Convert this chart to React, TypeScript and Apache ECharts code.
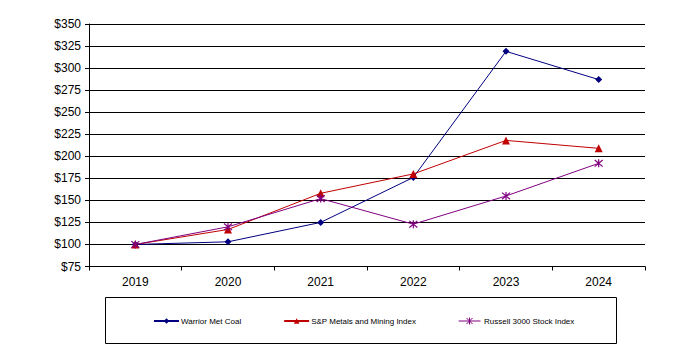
import React, { useEffect, useRef } from "react";
import * as echarts from "echarts";

const years = ["2019", "2020", "2021", "2022", "2023", "2024"];
const warrior = [100, 103, 125, 176, 319, 287];
const spMetals = [100, 117, 158, 180, 218, 209];
const russell = [100, 120, 152, 123, 155, 192];

const asterisk = "path://M0,0L10,10M10,0L0,10M5,-1L5,11";
const asteriskLegend = "path://M0,5L25,5M9,1.5L16,8.5M16,1.5L9,8.5M12.5,1L12.5,9";

export default function App() {
  const ref = useRef<HTMLDivElement>(null);
  useEffect(() => {
    document.body.style.margin = "0";
    const chart = echarts.init(ref.current!, null, { renderer: "svg" });
    const font = "Arial, 'Liberation Sans', sans-serif";
    chart.setOption({
      animation: false,
      backgroundColor: "#ffffff",
      grid: { left: 89, right: 32, top: 24, bottom: 87.5 },
      xAxis: {
        type: "category",
        data: years,
        boundaryGap: true,
        axisLine: { lineStyle: { color: "#000", width: 1 } },
        axisTick: { show: true, inside: false, length: 4, alignWithLabel: false, lineStyle: { color: "#000" } },
        axisLabel: { color: "#000", fontFamily: font, fontSize: 12, margin: 9 },
      },
      yAxis: {
        type: "value",
        min: 75,
        max: 350,
        interval: 25,
        axisLine: { show: true, lineStyle: { color: "#000", width: 1 } },
        axisTick: { show: true, length: 4, lineStyle: { color: "#000" } },
        axisLabel: { color: "#000", fontFamily: font, fontSize: 12, margin: 8, formatter: (v: number) => "$" + v },
        splitLine: { show: true, lineStyle: { color: "#000", width: 1 } },
      },
      legend: {
        left: 148,
        top: 312,
        itemWidth: 25,
        itemHeight: 7,
        itemGap: 42,
        textStyle: { fontFamily: font, fontSize: 8, color: "#000", padding: [0, 0, 0, -3] },
        data: [
          "Warrior Met Coal",
          "S&P Metals and Mining Index",
          {
            name: "Russell 3000 Stock Index",
            icon: asteriskLegend,
            itemStyle: { color: "rgba(0,0,0,0)", borderColor: "#800080", borderWidth: 1 },
          },
        ],
      },
      graphic: [
        {
          type: "rect",
          shape: { x: 105.5, y: 297.5, width: 511, height: 46 },
          style: { fill: "none", stroke: "#000", lineWidth: 1 },
          z: -1,
        },
      ],
      series: [
        {
          name: "Warrior Met Coal",
          type: "line",
          data: warrior,
          symbol: "diamond",
          symbolSize: 7,
          itemStyle: { color: "#000080" },
          lineStyle: { color: "#000080", width: 1 },
        },
        {
          name: "S&P Metals and Mining Index",
          type: "line",
          data: spMetals,
          symbol: "triangle",
          symbolSize: 8,
          itemStyle: { color: "#c00000" },
          lineStyle: { color: "#c00000", width: 1 },
        },
        {
          name: "Russell 3000 Stock Index",
          type: "line",
          data: russell,
          symbol: asterisk,
          symbolSize: 8,
          itemStyle: { color: "rgba(0,0,0,0)", borderColor: "#800080", borderWidth: 1.2 },
          lineStyle: { color: "#800080", width: 1 },
        },
      ],
    });
    return () => chart.dispose();
  }, []);
  return <div ref={ref} style={{ width: 677, height: 354 }} />;
}
